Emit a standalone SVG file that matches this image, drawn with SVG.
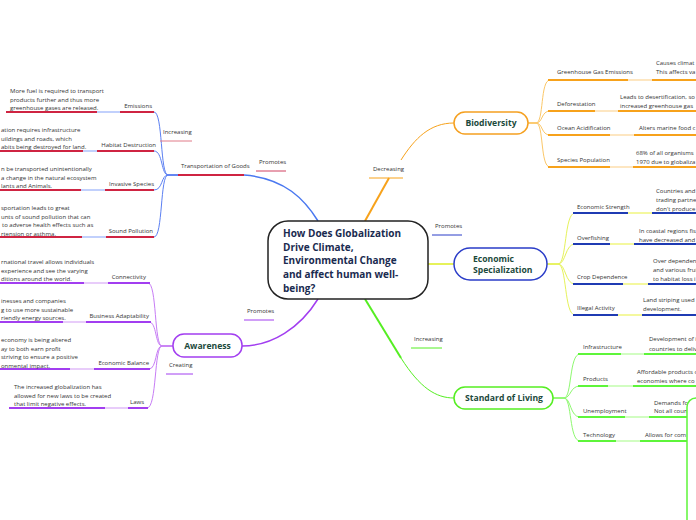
<svg xmlns="http://www.w3.org/2000/svg" width="696" height="520" viewBox="0 0 696 520">
<style>
text{font-family:"Open Sans","Noto Sans","Liberation Sans",sans-serif;}
.t{font-size:6px;fill:#333;}
.e{text-anchor:end;}
.n{font-size:8.6px;font-weight:bold;fill:#1c4a3c;}
.c{text-anchor:middle;}
.title{font-size:10px;font-weight:bold;fill:#1a2b50;}
.ln{fill:none;stroke-linecap:butt;}
.or{stroke:#f7a21b;stroke-width:2;}
.orl{stroke:#fcd9a0;stroke-width:1.3;}
.orf{stroke:#fbc768;stroke-width:1;fill:none;}
.bl{stroke:#1f3bb3;stroke-width:2;}
.yl{stroke:#eef56a;stroke-width:1.3;}
.ylf{stroke:#e6f25a;stroke-width:1;fill:none;}
.gr{stroke:#5ef53a;stroke-width:2;}
.grl{stroke:#b8fca0;stroke-width:1.3;}
.grf{stroke:#8ef870;stroke-width:1;fill:none;}
.pu{stroke:#a23ef0;stroke-width:2;}
.pul{stroke:#dcb0f8;stroke-width:1.3;}
.puf{stroke:#c77df5;stroke-width:1;fill:none;}
.rd{stroke:#cf2442;stroke-width:2;}
.rdl{stroke:#9fb6fa;stroke-width:1.3;}
.rdf{stroke:#5b7ff2;stroke-width:1;fill:none;}
</style>

<g id="connectors" fill="none">
  <path d="M244,175 C285,178 305,200 318,221" stroke="#4a78f0" stroke-width="1.5"/>
  <path d="M365,221 L389,178" stroke="#f7a21b" stroke-width="2"/>
  <path d="M401,160 C415,138 430,123 454,123" stroke="#f7a21b" stroke-width="1"/>
  <path d="M428,264 L454,264" stroke="#e6f25a" stroke-width="2"/>
  <path d="M365,299 L401,358" stroke="#55ee22" stroke-width="2"/>
  <path d="M401,358 C420,388 436,398 454,398" stroke="#55ee22" stroke-width="1"/>
  <path d="M318,299 C300,328 272,346 242,346" stroke="#a23ef0" stroke-width="1.5"/>

  <path class="orf" d="M528,123 L536,123 C544,123 540,80 550,80"/>
  <path class="orf" d="M528,123 L536,123 C543,123 541,111 550,111"/>
  <path class="orf" d="M528,123 L536,123 C543,123 541,135 550,135"/>
  <path class="orf" d="M528,123 L536,123 C544,123 540,167 550,167"/>
  <line class="ln or" x1="548" y1="80" x2="628" y2="80"/><line class="ln orl" x1="628" y1="80" x2="652" y2="80"/><line class="ln or" x1="652" y1="80" x2="700" y2="80"/>
  <line class="ln or" x1="548" y1="111" x2="595" y2="111"/><line class="ln orl" x1="595" y1="111" x2="618" y2="111"/><line class="ln or" x1="618" y1="111" x2="700" y2="111"/>
  <line class="ln or" x1="548" y1="135" x2="610" y2="135"/><line class="ln orl" x1="610" y1="135" x2="634" y2="135"/><line class="ln or" x1="634" y1="135" x2="700" y2="135"/>
  <line class="ln or" x1="548" y1="167" x2="610" y2="167"/><line class="ln orl" x1="610" y1="167" x2="633" y2="167"/><line class="ln or" x1="633" y1="167" x2="700" y2="167"/>

  <path class="ylf" d="M547,264 L558,264 C567,264 564,213 575,213"/>
  <path class="ylf" d="M547,264 L558,264 C566,264 565,244 575,244"/>
  <path class="ylf" d="M547,264 L558,264 C566,264 565,284 575,284"/>
  <path class="ylf" d="M547,264 L558,264 C567,264 564,315 575,315"/>
  <line class="ln bl" x1="573" y1="213" x2="628" y2="213"/><line class="ln yl" x1="628" y1="213" x2="652" y2="213"/><line class="ln bl" x1="652" y1="213" x2="700" y2="213"/>
  <line class="ln bl" x1="573" y1="244" x2="610" y2="244"/><line class="ln yl" x1="610" y1="244" x2="634" y2="244"/><line class="ln bl" x1="634" y1="244" x2="700" y2="244"/>
  <line class="ln bl" x1="573" y1="284" x2="623" y2="284"/><line class="ln yl" x1="623" y1="284" x2="648" y2="284"/><line class="ln bl" x1="648" y1="284" x2="700" y2="284"/>
  <line class="ln bl" x1="573" y1="315" x2="618" y2="315"/><line class="ln yl" x1="618" y1="315" x2="642" y2="315"/><line class="ln bl" x1="642" y1="315" x2="700" y2="315"/>

  <path class="grf" d="M553,398 L564,398 C572,398 569,354 580,354"/>
  <path class="grf" d="M553,398 L564,398 C571,398 570,386 580,386"/>
  <path class="grf" d="M553,398 L564,398 C571,398 570,417 580,417"/>
  <path class="grf" d="M553,398 L564,398 C572,398 569,441 580,441"/>
  <line class="ln gr" x1="578" y1="354" x2="621" y2="354"/><line class="ln grl" x1="621" y1="354" x2="644" y2="354"/><line class="ln gr" x1="644" y1="354" x2="700" y2="354"/>
  <line class="ln gr" x1="578" y1="386" x2="608" y2="386"/><line class="ln grl" x1="608" y1="386" x2="633" y2="386"/><line class="ln gr" x1="633" y1="386" x2="700" y2="386"/>
  <line class="ln gr" x1="578" y1="417" x2="625" y2="417"/><line class="ln grl" x1="625" y1="417" x2="649" y2="417"/><line class="ln gr" x1="649" y1="417" x2="687" y2="417"/>
  <line class="ln gr" x1="578" y1="441" x2="616" y2="441"/><line class="ln grl" x1="616" y1="441" x2="640" y2="441"/><line class="ln gr" x1="640" y1="441" x2="687" y2="441"/>

  <path class="puf" d="M173,346 L162,346 C154,346 157,283 148,283"/>
  <path class="puf" d="M173,346 L162,346 C155,346 157,322 149,322"/>
  <path class="puf" d="M173,346 L162,346 C155,346 157,369 149,369"/>
  <path class="puf" d="M173,346 L162,346 C154,346 157,408 147,408"/>
  <line class="ln pu" x1="108" y1="283" x2="150" y2="283"/><line class="ln pul" x1="84" y1="283" x2="108" y2="283"/><line class="ln pu" x1="-4" y1="283" x2="84" y2="283"/>
  <line class="ln pu" x1="86" y1="322" x2="151" y2="322"/><line class="ln pul" x1="63" y1="322" x2="86" y2="322"/><line class="ln pu" x1="-4" y1="322" x2="63" y2="322"/>
  <line class="ln pu" x1="94" y1="369" x2="150" y2="369"/><line class="ln pul" x1="70" y1="369" x2="94" y2="369"/><line class="ln pu" x1="-4" y1="369" x2="70" y2="369"/>
  <line class="ln pu" x1="128" y1="408" x2="148" y2="408"/><line class="ln pul" x1="105" y1="408" x2="128" y2="408"/><line class="ln pu" x1="9" y1="408" x2="105" y2="408"/>

  <path class="rdf" d="M178,175 L168,175 C160,175 163,112 154,112"/>
  <path class="rdf" d="M178,175 L168,175 C161,175 163,151 154,151"/>
  <path class="rdf" d="M178,175 L168,175 C161,175 163,190 154,190"/>
  <path class="rdf" d="M178,175 L168,175 C160,175 163,237 154,237"/>
  <line class="ln rd" x1="120" y1="112" x2="154" y2="112"/><line class="ln rdl" x1="97" y1="112" x2="120" y2="112"/><line class="ln rd" x1="6" y1="112" x2="97" y2="112"/>
  <line class="ln rd" x1="97" y1="151" x2="154" y2="151"/><line class="ln rdl" x1="83" y1="151" x2="97" y2="151"/><line class="ln rd" x1="-4" y1="151" x2="83" y2="151"/>
  <line class="ln rd" x1="105" y1="190" x2="154" y2="190"/><line class="ln rdl" x1="81" y1="190" x2="105" y2="190"/><line class="ln rd" x1="-4" y1="190" x2="81" y2="190"/>
  <line class="ln rd" x1="106" y1="237" x2="154" y2="237"/><line class="ln rdl" x1="82" y1="237" x2="106" y2="237"/><line class="ln rd" x1="-4" y1="237" x2="82" y2="237"/>
  <line class="ln rd" x1="178" y1="175" x2="244" y2="175"/>

  <line x1="160" y1="141" x2="192" y2="141" stroke="#e07a88" stroke-width="1"/>
  <line x1="256" y1="171" x2="286" y2="171" stroke="#d04060" stroke-width="1"/>
  <line x1="369" y1="178" x2="403" y2="178" stroke="#f7a21b" stroke-width="1"/>
  <line x1="432" y1="235" x2="462" y2="235" stroke="#2a3cc8" stroke-width="1"/>
  <line x1="411" y1="348" x2="442" y2="348" stroke="#55ee22" stroke-width="1"/>
  <line x1="244" y1="320" x2="274" y2="320" stroke="#a23ef0" stroke-width="1"/>
  <line x1="166" y1="374" x2="193" y2="374" stroke="#a23ef0" stroke-width="1"/>
</g>

<g id="center">
  <rect x="268" y="221" width="160" height="78" rx="20" fill="#fff" stroke="#222" stroke-width="1.5"/>
  <text class="title" x="283" y="236.5">How Does Globalization</text>
  <text class="title" x="283" y="250.5">Drive Climate,</text>
  <text class="title" x="283" y="264.3">Environmental Change</text>
  <text class="title" x="283" y="277.9">and affect human well-</text>
  <text class="title" x="283" y="291.5">being?</text>
</g>

<g id="biodiversity">
  <rect x="454" y="112" width="74" height="22" rx="11" fill="#fff" stroke="#f5a020" stroke-width="1.5"/>
  <text class="n c" x="491" y="126">Biodiversity</text>
</g>
<g id="economic-specialization">
  <rect x="454" y="248" width="93" height="32" rx="16" fill="#fff" stroke="#2a3cc8" stroke-width="1.5"/>
  <text class="n" x="473" y="262">Economic</text>
  <text class="n" x="473" y="273">Specialization</text>
</g>
<g id="standard-of-living">
  <rect x="454" y="387" width="99" height="22" rx="11" fill="#fff" stroke="#55ee22" stroke-width="1.5"/>
  <text class="n c" x="504" y="401">Standard of Living</text>
</g>
<g id="awareness">
  <rect x="173" y="334" width="69" height="23" rx="11" fill="#fff" stroke="#a23ef0" stroke-width="1.5"/>
  <text class="n c" x="207.5" y="349">Awareness</text>
</g>

<g id="labels">
  <g id="rel-increasing-1"><text class="t" x="163" y="134.1">Increasing</text></g>
  <g id="rel-promotes-1"><text class="t" x="259" y="164.1">Promotes</text></g>
  <g id="rel-decreasing"><text class="t" x="373" y="171.1">Decreasing</text></g>
  <g id="rel-promotes-2"><text class="t" x="435" y="228.1">Promotes</text></g>
  <g id="rel-increasing-2"><text class="t" x="414" y="341.1">Increasing</text></g>
  <g id="rel-promotes-3"><text class="t" x="247" y="313.1">Promotes</text></g>
  <g id="rel-creating"><text class="t" x="169" y="367.1">Creating</text></g>
</g>

<g id="transportation"><text class="t" x="181" y="168.1">Transportation of Goods</text></g>
<g id="emissions"><text class="t e" x="152" y="108.1">Emissions</text></g>
<g id="emissions-detail">
  <text class="t" x="10" y="93.1">More fuel is required to transport</text>
  <text class="t" x="10" y="101.6">products further and thus more</text>
  <text class="t" x="10" y="110.1">greenhouse gases are released.</text>
</g>
<g id="habitat"><text class="t e" x="156" y="147.1">Habitat Destruction</text></g>
<g id="habitat-detail">
  <text class="t" x="1" y="132.1">ation requires infrastructure</text>
  <text class="t" x="1" y="140.6">uildings and roads, which</text>
  <text class="t" x="1" y="149.1">abits being destroyed for land.</text>
</g>
<g id="invasive"><text class="t e" x="154" y="186.1">Invasive Species</text></g>
<g id="invasive-detail">
  <text class="t" x="1" y="171.1">n be transported unintentionally</text>
  <text class="t" x="1" y="179.6">a change in the natural ecosystem</text>
  <text class="t" x="1" y="188.1">lants and Animals.</text>
</g>
<g id="sound"><text class="t e" x="153" y="233.1">Sound Pollution</text></g>
<g id="sound-detail">
  <text class="t" x="1" y="210.1">sportation leads to great</text>
  <text class="t" x="1" y="218.6">unts of sound pollution that can</text>
  <text class="t" x="2" y="227.1">to adverse health effects such as</text>
  <text class="t" x="1" y="235.6">rtension or asthma.</text>
</g>

<g id="connectivity"><text class="t e" x="146" y="279.1">Connectivity</text></g>
<g id="connectivity-detail">
  <text class="t" x="1" y="264.1">rnational travel allows individuals</text>
  <text class="t" x="1" y="272.6">experience and see the varying</text>
  <text class="t" x="1" y="281.1">ditions around the world.</text>
</g>
<g id="business"><text class="t e" x="149" y="318.1">Business Adaptability</text></g>
<g id="business-detail">
  <text class="t" x="1" y="303.1">inesses and companies</text>
  <text class="t" x="1" y="311.6">g to use more sustainable</text>
  <text class="t" x="1" y="320.1">riendly energy sources.</text>
</g>
<g id="economic-balance"><text class="t e" x="149" y="365.1">Economic Balance</text></g>
<g id="economic-balance-detail">
  <text class="t" x="1" y="342.1">economy is being altered</text>
  <text class="t" x="1" y="350.6">ay to both earn profit</text>
  <text class="t" x="1" y="359.1">striving to ensure a positive</text>
  <text class="t" x="1" y="367.6">onmental impact.</text>
</g>
<g id="laws"><text class="t e" x="144" y="404.1">Laws</text></g>
<g id="laws-detail">
  <text class="t" x="14" y="389.1">The increased globalization has</text>
  <text class="t" x="14" y="397.6">allowed for new laws to be created</text>
  <text class="t" x="14" y="406.1">that limit negative effects.</text>
</g>

<g id="ghg"><text class="t" x="557" y="74.1">Greenhouse Gas Emissions</text></g>
<g id="ghg-detail">
  <text class="t" x="656" y="65.1">Causes climat</text>
  <text class="t" x="656" y="74.1">This affects va</text>
</g>
<g id="deforestation"><text class="t" x="557" y="106.1">Deforestation</text></g>
<g id="deforestation-detail">
  <text class="t" x="620" y="99.1">Leads to desertification, so</text>
  <text class="t" x="620" y="108.1">increased greenhouse gas</text>
</g>
<g id="ocean"><text class="t" x="557" y="130.1">Ocean Acidification</text></g>
<g id="ocean-detail"><text class="t" x="639" y="130.1">Alters marine food c</text></g>
<g id="species"><text class="t" x="557" y="162.1">Species Population</text></g>
<g id="species-detail">
  <text class="t" x="636" y="155.1">68% of all organisms</text>
  <text class="t" x="636" y="164.1">1970 due to globaliza</text>
</g>

<g id="strength"><text class="t" x="577" y="209.1">Economic Strength</text></g>
<g id="strength-detail">
  <text class="t" x="656" y="193.1">Countries and</text>
  <text class="t" x="656" y="202.1">trading partne</text>
  <text class="t" x="656" y="211.1">don't produce</text>
</g>
<g id="overfishing"><text class="t" x="577" y="240.1">Overfishing</text></g>
<g id="overfishing-detail">
  <text class="t" x="639" y="233.1">In coastal regions fis</text>
  <text class="t" x="639" y="242.1">have decreased and</text>
</g>
<g id="crop"><text class="t" x="577" y="279.1">Crop Dependence</text></g>
<g id="crop-detail">
  <text class="t" x="653" y="263.1">Over dependen</text>
  <text class="t" x="653" y="272.1">and various frui</text>
  <text class="t" x="653" y="281.1">to habitat loss i</text>
</g>
<g id="illegal"><text class="t" x="577" y="310.1">Illegal Activity</text></g>
<g id="illegal-detail">
  <text class="t" x="643" y="302.1">Land striping used</text>
  <text class="t" x="643" y="311.1">development.</text>
</g>

<g id="infrastructure"><text class="t" x="583" y="349.1">Infrastructure</text></g>
<g id="infrastructure-detail">
  <text class="t" x="649" y="341.1">Development of i</text>
  <text class="t" x="649" y="351.1">countries to deliv</text>
</g>
<g id="products"><text class="t" x="583" y="381.1">Products</text></g>
<g id="products-detail">
  <text class="t" x="637" y="374.1">Affordable products c</text>
  <text class="t" x="637" y="383.1">economies where co</text>
</g>
<g id="unemployment"><text class="t" x="583" y="413.1">Unemployment</text></g>
<g id="unemployment-detail">
  <text class="t" x="654" y="405.1">Demands for</text>
  <text class="t" x="654" y="413.1">Not all coun</text>
</g>
<g id="technology"><text class="t" x="583" y="437.1">Technology</text></g>
<g id="technology-detail"><text class="t" x="645" y="437.1">Allows for com</text></g>

<g id="offscreen-node">
  <rect x="687" y="398" width="40" height="200" rx="9" fill="#fff" stroke="#5ef53a" stroke-width="1.5"/>
</g>
</svg>
